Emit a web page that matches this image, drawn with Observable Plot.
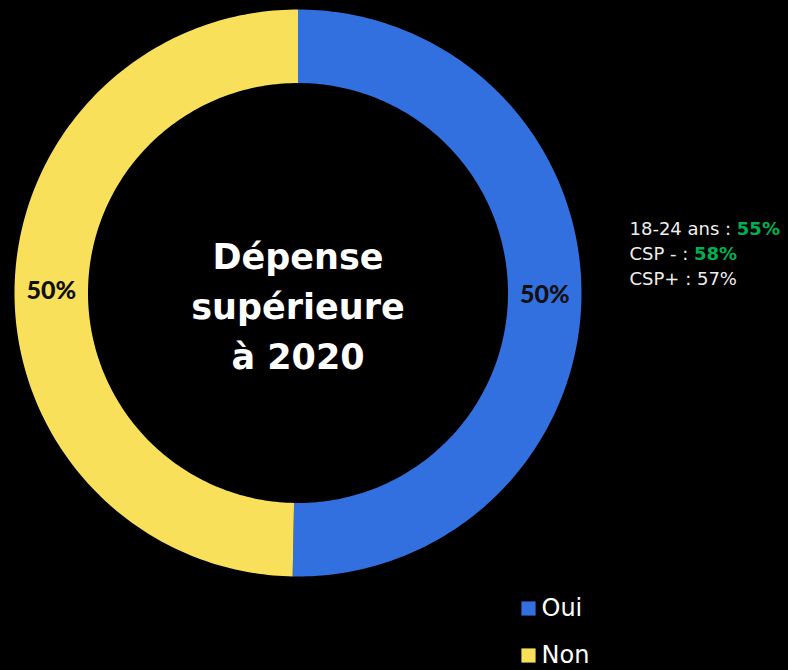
<!DOCTYPE html>
<html>
<head>
<meta charset="utf-8">
<script src="https://cdn.jsdelivr.net/npm/d3@7"></script>
<script src="https://cdn.jsdelivr.net/npm/@observablehq/plot@0.6"></script>
<style>
  html, body { margin: 0; padding: 0; background: #000; }
  #chart svg { display: block; background: #000; }
</style>
</head>
<body>
<div id="chart"></div>
<script>
// ---- data ----
const categories = ["Oui", "Non"];
const values = [50.3, 49.7];
const sliceLabels = ["50%", "50%"];
const colors = ["#3370DF", "#F8E05B"];
const centerTitle = ["Dépense", "supérieure", "à 2020"];
const notePrefixes = ["18-24 ans : ", "CSP - : ", "CSP+ : "];
const noteValues = ["55%", "58%", "57%"];
const noteHighlight = [true, true, false];

// ---- layout ----
const W = 788, H = 670;
const cx = 297.5, cy = 292.5, rOuter = 283.5, rInner = 210;
const rLabel = (rOuter + rInner) / 2;

const pie = d3.pie().sort(null).value(d => d.value)(categories.map((c, i) => ({cat: c, value: values[i], label: sliceLabels[i]})));

function pt(r, a) { return [cx + r * Math.sin(a), cy - r * Math.cos(a)]; }

const ringPts = [];
pie.forEach(s => {
  const n = 180;
  for (let k = 0; k <= n; k++) {
    const a = s.startAngle + (s.endAngle - s.startAngle) * k / n;
    const [x, y] = pt(rOuter, a);
    ringPts.push({cat: s.data.cat, x, y});
  }
  for (let k = n; k >= 0; k--) {
    const a = s.startAngle + (s.endAngle - s.startAngle) * k / n;
    const [x, y] = pt(rInner, a);
    ringPts.push({cat: s.data.cat, x, y});
  }
});

const labelPts = pie.map(s => {
  const a = (s.startAngle + s.endAngle) / 2;
  const [x, y] = pt(rLabel, a);
  return {x, y, label: s.data.label};
});

// measure text widths for mixed-weight notes
const noteFamily = "DejaVu Sans";
const noteSize = 18;
const ctx = document.createElement("canvas").getContext("2d");
ctx.font = `${noteSize}px "${noteFamily}"`;
const noteX = 629, noteY0 = 229, noteDY = 25;
const notesA = notePrefixes.map((p, i) => ({x: noteX, y: noteY0 + i * noteDY, t: p}));
const notesB = noteValues.map((v, i) => ({x: noteX + ctx.measureText(notePrefixes[i]).width, y: noteY0 + i * noteDY, t: v, hl: noteHighlight[i]}));

const legendItems = categories.map((c, i) => ({cat: c, x: 528, y: 608 + i * 47}));

const chart = Plot.plot({
  width: W, height: H,
  margin: 0,
  style: {background: "#000"},
  x: {domain: [0, W], range: [0, W], axis: null},
  y: {domain: [0, H], range: [0, H], axis: null},
  color: {domain: categories, range: colors},
  marks: [
    Plot.line(ringPts, {x: "x", y: "y", z: "cat", fill: "cat", stroke: null, curve: "linear-closed"}),
    Plot.text(labelPts, {x: "x", y: "y", text: "label", fill: "#111", fontSize: 25, fontWeight: 900, fontFamily: "Lato"}),
    Plot.text([centerTitle.join("\n")], {x: [cx], y: [cy + 10], text: d => d, fill: "#fff", fontSize: 35, fontWeight: "bold", fontFamily: "DejaVu Sans", lineHeight: 1.42}),
    Plot.text(notesA, {x: "x", y: "y", text: "t", textAnchor: "start", fill: "#eeeeee", fontSize: noteSize, fontFamily: noteFamily}),
    Plot.text(notesB.filter(d => d.hl), {x: "x", y: "y", text: "t", textAnchor: "start", fill: "#00B050", fontSize: noteSize, fontWeight: "bold", fontFamily: noteFamily}),
    Plot.text(notesB.filter(d => !d.hl), {x: "x", y: "y", text: "t", textAnchor: "start", fill: "#eeeeee", fontSize: noteSize, fontFamily: noteFamily}),
    Plot.dot(legendItems, {x: "x", y: "y", fill: "cat", symbol: "square", r: 8, stroke: null}),
    Plot.text(legendItems, {x: d => d.x + 13, y: "y", text: "cat", textAnchor: "start", fill: "#fff", fontSize: 24, fontFamily: "DejaVu Sans"})
  ]
});
document.getElementById("chart").appendChild(chart);
</script>
</body>
</html>
